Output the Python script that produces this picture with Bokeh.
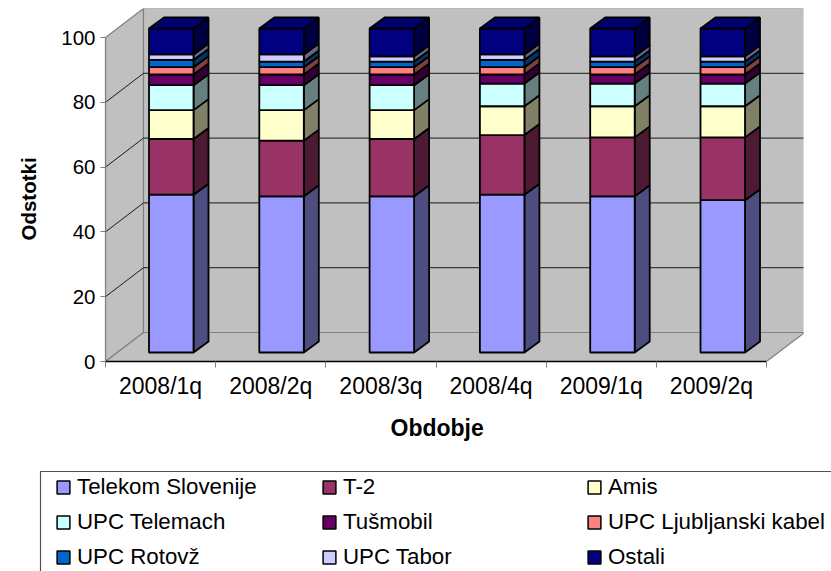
from bokeh.plotting import figure
from bokeh.layouts import column
from bokeh.models import Range1d, FixedTicker, Legend, LegendItem, Title
from bokeh.embed import file_html
from bokeh.resources import INLINE

periods = ["2008/1q", "2008/2q", "2008/3q", "2008/4q", "2009/1q", "2009/2q"]
names = ["Telekom Slovenije", "T-2", "Amis", "UPC Telemach", "Tušmobil",
         "UPC Ljubljanski kabel", "UPC Rotovž", "UPC Tabor", "Ostali"]
telekom = [48.7, 48.2, 48.2, 48.7, 48.2, 47.0]
t2 = [17.2, 17.2, 17.7, 18.4, 18.2, 19.4]
amis = [8.9, 9.4, 8.9, 8.9, 9.6, 9.6]
telemach = [7.7, 7.7, 7.7, 7.0, 7.0, 7.0]
tusmobil = [3.3, 3.3, 3.3, 2.8, 2.8, 2.8]
ljubljanski = [2.25, 2.25, 2.25, 2.25, 2.25, 2.25]
rotovz = [2.25, 1.75, 1.75, 2.25, 1.75, 1.75]
tabor = [1.7, 2.2, 1.6, 1.7, 1.6, 1.6]
ostali = [8.0, 8.0, 8.6, 8.0, 8.6, 8.6]
series = [telekom, t2, amis, telemach, tusmobil, ljubljanski, rotovz, tabor, ostali]
front_colors = ["#9999FF", "#993366", "#FFFFCC", "#CCFFFF", "#660066",
                "#FF8080", "#0066CC", "#CCCCFF", "#000080"]
side_colors = ["#4D4D80", "#4D1A33", "#808066", "#668080", "#330033",
               "#804040", "#003366", "#666680", "#000040"]
y_ticks = [0, 20, 40, 60, 80, 100]

PX_X = 661 / 6     # pixels per category
PX_Y = 3.24        # pixels per percentage point
FRAME_W, FRAME_H = 698, 353
DX, DY = 38 / PX_X, 29 / PX_Y           # wall depth
BAR_DX0, BAR_DY0 = 12 / PX_X, 9 / PX_Y  # front of bars
BAR_DX, BAR_DY = 15 / PX_X, 11 / PX_Y   # bar depth
BAR_W = 44.5 / PX_X
BAR_PITCH = 110.3 / PX_X
FONT = "Liberation Sans"

p = figure(width=831, height=465, output_backend="svg", toolbar_location=None,
           x_range=Range1d(0, FRAME_W / PX_X), y_range=Range1d(0, FRAME_H / PX_Y),
           min_border_left=105, min_border_right=28, min_border_top=8, min_border_bottom=104,
           outline_line_color=None, background_fill_color=None, border_fill_color="white",
           frame_align=False)
p.grid.visible = False

# Walls and floor
top = y_ticks[-1]
p.patches(
    xs=[[0, 0, DX, DX], [DX, DX, 6 + DX, 6 + DX], [0, DX, 6 + DX, 6]],
    ys=[[0, top, top + DY, DY], [DY, top + DY, top + DY, DY], [0, DY, DY, 0]],
    fill_color="#C0C0C0", line_color="#808080", line_width=1.2)

# Gridlines on the left and back walls
grid = y_ticks[1:-1]
p.multi_line(xs=[[0, DX, 6 + DX] for _ in grid],
             ys=[[v, v + DY, v + DY] for v in grid],
             line_color="#1A1A1A", line_width=1)

# Bars
base = [0.0] * len(periods)
for s, vals in enumerate(series):
    lefts = [BAR_DX0 + 0.286 + i * BAR_PITCH for i in range(len(periods))]
    rights = [l + BAR_W for l in lefts]
    bottoms = [b + BAR_DY0 for b in base]
    tops = [b + v for b, v in zip(bottoms, vals)]
    p.patches(xs=[[r, r, r + BAR_DX, r + BAR_DX] for r in rights],
              ys=[[b, t, t + BAR_DY, b + BAR_DY] for b, t in zip(bottoms, tops)],
              fill_color=side_colors[s], line_color="black", line_width=1.8)
    p.quad(left=lefts, right=rights, bottom=bottoms, top=tops,
           fill_color=front_colors[s], line_color="black", line_width=1.8)
    base = [b + v for b, v in zip(base, vals)]
    if s == len(series) - 1:
        p.patches(xs=[[l, r, r + BAR_DX, l + BAR_DX] for l, r in zip(lefts, rights)],
                  ys=[[t, t, t + BAR_DY, t + BAR_DY] for t in tops],
                  fill_color="#000070", line_color="black", line_width=1.8)

# Axes
xa = p.xaxis[0]
xa.bounds = (0, 6)
xa.ticker = FixedTicker(ticks=[i + 0.5 for i in range(6)], minor_ticks=list(range(7)))
xa.major_label_overrides = {i + 0.5: periods[i] for i in range(6)}
xa.major_tick_line_color = None
xa.minor_tick_line_color = "#808080"
xa.minor_tick_out, xa.minor_tick_in = 6, 0
xa.axis_line_color = "black"
xa.axis_line_width = 1.5
xa.major_label_standoff = 5
xa.major_label_text_font = FONT
xa.major_label_text_font_size = "23px"
xa.major_label_text_color = "black"

ya = p.yaxis[0]
ya.bounds = (0, 100)
ya.ticker = FixedTicker(ticks=y_ticks)
ya.minor_tick_line_color = None
ya.major_tick_line_color = "#808080"
ya.major_tick_out, ya.major_tick_in = 5, 0
ya.axis_line_color = "#808080"
ya.axis_line_width = 1.2
ya.major_label_standoff = 5
ya.major_label_text_font = FONT
ya.major_label_text_font_size = "20.5px"
ya.major_label_text_color = "black"

p.add_layout(Title(text="Obdobje", align="left", offset=285, standoff=22,
                   text_font=FONT, text_font_size="23px", text_font_style="bold",
                   text_color="black"), "below")
p.add_layout(Title(text="Odstotki", align="left", offset=121, standoff=33,
                   vertical_align="top",
                   text_font=FONT, text_font_size="20.5px", text_font_style="bold",
                   text_color="black"), "left")

# Legend panel, in page pixels
q = figure(width=831, height=106, output_backend="svg", toolbar_location=None,
           x_range=Range1d(0, 831), y_range=Range1d(571, 465),
           min_border=0, outline_line_color=None, background_fill_color=None,
           border_fill_color="white", x_axis_type=None, y_axis_type=None,
           frame_align=False)
q.grid.visible = False
q.line(x=[40, 40, 831], y=[571, 471, 471], line_color="#505050", line_width=1.2)
# Off-range rectangles: they only supply the legend's swatches
swatches = [q.quad(left=[-30], right=[-20], top=[480], bottom=[490], fill_color=c,
                   line_color="black", line_width=1.5) for c in front_colors]
columns = [(0, 3, 6), (1, 4, 7), (2, 5, 8)]
col_x = [55, 321, 586]
for col, x in zip(columns, col_x):
    q.add_layout(Legend(
        items=[LegendItem(label=names[i], renderers=[swatches[i]]) for i in col],
        location=(x, 1), orientation="vertical", background_fill_alpha=0,
        border_line_color=None, padding=0, margin=0, spacing=9,
        glyph_width=16, glyph_height=16, label_standoff=6, label_height=20,
        label_text_font=FONT, label_text_font_size="22.3px",
        label_text_color="black"), "center")

page = column(p, q, spacing=0)
open("out.html", "w").write(file_html(page, INLINE))
